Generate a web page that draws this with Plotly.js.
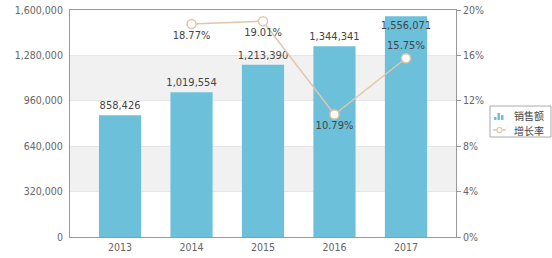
<!DOCTYPE html>
<html><head><meta charset="utf-8">
<script src="https://cdn.plot.ly/plotly-3.0.1.min.js"></script>
<style>html,body{margin:0;padding:0;background:#fff}#c{width:552px;height:258px}</style>
</head><body><div id="c"></div>
<script>
const years = ['2013','2014','2015','2016','2017'];
const sales = [858426, 1019554, 1213390, 1344341, 1556071];
const rateYears = ['2014','2015','2016','2017'];
const growth = [0.1877, 0.1901, 0.1079, 0.1575];
const leftTicks = [0, 320000, 640000, 960000, 1280000, 1600000];
const rightTicks = [0, 0.04, 0.08, 0.12, 0.16, 0.20];
const seriesNames = ['销售额', '增长率'];

const fam = 'DejaVu Sans Condensed, DejaVu Sans, Verdana, sans-serif';
const font = {family: fam, size: 10.5, color: '#666'};
const labelFont = {family: fam, size: 11, color: '#444'};
const barColor = '#6cc0d9';
const lineColor = '#e3c5a8';

const M = {l:70, r:96, t:10, b:21};
const W = 552, H = 258;
const pw = W - M.l - M.r, ph = H - M.t - M.b;
const px = v => (v - M.l) / pw;
const py = v => (H - M.b - v) / ph;

const shapes = [];
for (let i = 1; i < leftTicks.length - 1; i += 2) {
  shapes.push({type:'rect', xref:'paper', yref:'y', x0:0, x1:1, y0:leftTicks[i], y1:leftTicks[i+1],
    fillcolor:'#f1f1f1', line:{width:0}, layer:'below'});
}
// custom legend box
shapes.push({type:'rect', xref:'paper', yref:'paper', x0:px(490), x1:px(551), y0:py(106), y1:py(137),
  fillcolor:'#fff', line:{color:'#aaa', width:1}, layer:'above'});
// bar icon
[[494,117],[497.5,113],[501,115]].forEach(([x,t]) => shapes.push({type:'rect', xref:'paper', yref:'paper',
  x0:px(x), x1:px(x+2.5), y0:py(120), y1:py(t), fillcolor:barColor, line:{width:0}, layer:'above'}));
// line icon
shapes.push({type:'line', xref:'paper', yref:'paper', x0:px(493), x1:px(506), y0:py(130), y1:py(130),
  line:{color:lineColor, width:1.5}, layer:'above'});
shapes.push({type:'circle', xref:'paper', yref:'paper', x0:px(497), x1:px(502), y0:py(127.5), y1:py(132.5),
  fillcolor:'#fff', line:{color:lineColor, width:1.2}, layer:'above'});

const legFont = {family:'Noto Sans CJK SC, sans-serif', size:10, color:'#444'};
const annotations = [
  {xref:'paper', yref:'paper', x:px(512), y:py(116), xanchor:'left', yanchor:'middle', text:seriesNames[0], showarrow:false, font:legFont},
  {xref:'paper', yref:'paper', x:px(512), y:py(130), xanchor:'left', yanchor:'middle', text:seriesNames[1], showarrow:false, font:legFont}
];

const traces = [
  {type:'bar', x: years, y: sales, name: seriesNames[0], width: 0.59,
   marker:{color:barColor},
   texttemplate:'%{y:,}',
   textposition:['outside','outside','outside','outside','inside'],
   textangle:0,
   insidetextanchor:'end', constraintext:'none',
   textfont:labelFont, outsidetextfont:labelFont, insidetextfont:labelFont,
   cliponaxis:false},
  {type:'scatter', mode:'lines+markers+text', x: rateYears, y: growth, yaxis:'y2', name: seriesNames[1],
   line:{color:lineColor, width:1.5},
   marker:{size:9, color:'#ffffff', line:{color:lineColor, width:1.5}},
   texttemplate:'%{y:.2%}',
   textposition:['bottom center','bottom center','bottom center','top center'],
   textfont:labelFont,
   cliponaxis:false}
];

const layout = {
  width:W, height:H,
  margin:{l:M.l, r:M.r, t:M.t, b:M.b, autoexpand:false},
  paper_bgcolor:'#fff', plot_bgcolor:'#fff',
  font: font,
  showlegend:false,
  xaxis:{type:'category', range:[-0.7, 4.7], showgrid:false, zeroline:false,
    showline:true, linecolor:'#999', linewidth:1, mirror:true, ticks:'', tickfont:font, fixedrange:true},
  yaxis:{range:[0,1600000], tickvals:leftTicks, tickformat:',', showgrid:true, gridcolor:'#e6e6e6',
    zeroline:false, showline:true, linecolor:'#999', linewidth:1, ticks:'', tickfont:font, ticklabelstandoff:4},
  yaxis2:{range:[0,0.2], tickvals:rightTicks, tickformat:'.0%', overlaying:'y', side:'right',
    showgrid:false, zeroline:false, showline:true, linecolor:'#999', linewidth:1, ticks:'outside', ticklen:4, tickcolor:'#999', tickfont:font},
  shapes: shapes,
  annotations: annotations
};

Plotly.newPlot('c', traces, layout, {displayModeBar:false, staticPlot:true});
</script></body></html>
